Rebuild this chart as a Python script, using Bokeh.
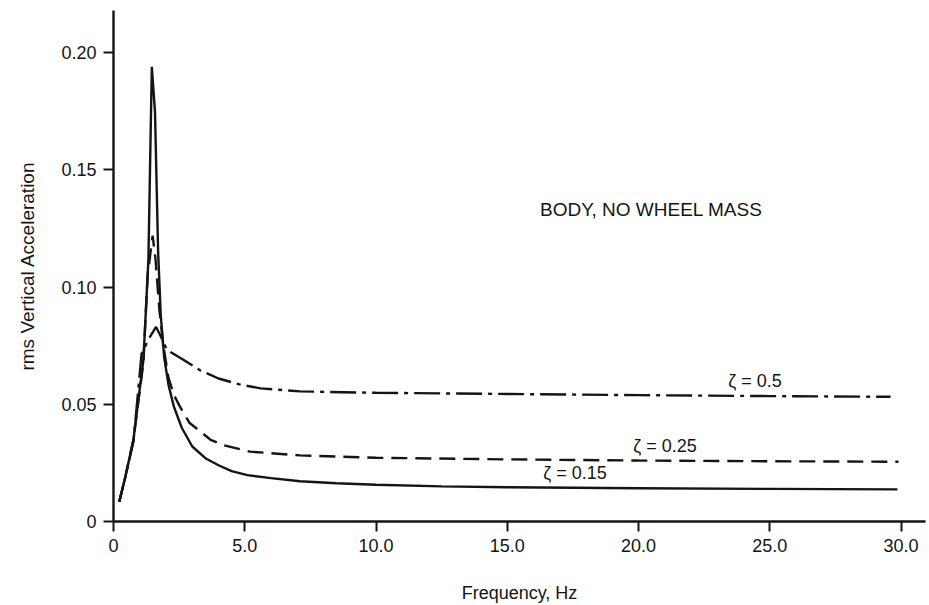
from bokeh.plotting import figure
from bokeh.models import Range1d, Label, FixedTicker
from bokeh.embed import file_html
from bokeh.resources import INLINE

# ---- data ----
freq_015 = [0.22, 0.45, 0.76, 1.14, 1.33, 1.46, 1.58, 1.70, 1.80, 1.93, 2.1, 2.3, 2.6, 3.0, 3.5, 4.0, 4.5, 5.1, 6.0, 7.1, 8.5, 10.0, 12.5, 15.0, 20.0, 25.0, 29.86]
acc_015 = [0.0084, 0.019, 0.035, 0.069, 0.112, 0.194, 0.175, 0.115, 0.088, 0.070, 0.058, 0.049, 0.040, 0.032, 0.027, 0.024, 0.0215, 0.0198, 0.0185, 0.0172, 0.0163, 0.0157, 0.015, 0.0146, 0.0142, 0.0139, 0.0137]

freq_025 = [0.22, 0.45, 0.76, 1.14, 1.30, 1.49, 1.60, 1.75, 1.90, 2.09, 2.3, 2.53, 2.9, 3.3, 3.7, 4.2, 5.2, 7.1, 10.0, 15.0, 20.0, 25.0, 29.9]
acc_025 = [0.0084, 0.019, 0.035, 0.068, 0.105, 0.122, 0.112, 0.090, 0.075, 0.0615, 0.054, 0.049, 0.042, 0.0385, 0.0348, 0.0325, 0.0298, 0.0282, 0.0272, 0.0265, 0.026, 0.0257, 0.0255]

freq_05 = [0.22, 0.45, 0.76, 1.07, 1.35, 1.62, 1.80, 2.03, 2.66, 3.3, 4.0, 4.8, 5.6, 7.1, 10.0, 15.0, 20.0, 25.0, 29.6]
acc_05 = [0.0084, 0.019, 0.034, 0.0716, 0.078, 0.083, 0.079, 0.0733, 0.069, 0.0645, 0.061, 0.0585, 0.0568, 0.0555, 0.0549, 0.0544, 0.0539, 0.0535, 0.0532]

x_ticks = [0, 5, 10, 15, 20, 25, 30]
x_tick_labels = ["0", "5.0", "10.0", "15.0", "20.0", "25.0", "30.0"]
y_ticks = [0, 0.05, 0.10, 0.15, 0.20]
y_tick_labels = ["0", "0.05", "0.10", "0.15", "0.20"]

title_text = "BODY, NO WHEEL MASS"
labels = [("ζ = 0.5", 23.42, 0.0600), ("ζ = 0.25", 19.8, 0.0322), ("ζ = 0.15", 16.37, 0.0207)]

FONT = "Liberation Sans"
INK = "#141414"

p = figure(width=929, height=605, output_backend="svg", toolbar_location=None,
           x_range=Range1d(0, 30.93), y_range=Range1d(0, 0.218),
           min_border_left=113, min_border_right=4, min_border_top=10, min_border_bottom=84)
p.outline_line_color = None
p.xgrid.grid_line_color = None
p.ygrid.grid_line_color = None
p.background_fill_color = "white"
p.border_fill_color = "white"

p.line(freq_015, acc_015, line_color=INK, line_width=2.4)
p.line(freq_025, acc_025, line_color=INK, line_width=2.4, line_dash="16 8")
p.line(freq_05, acc_05, line_color=INK, line_width=2.4, line_dash="26 6 4 6")

for ax, ticks, tl in ((p.xaxis[0], x_ticks, x_tick_labels), (p.yaxis[0], y_ticks, y_tick_labels)):
    ax.ticker = FixedTicker(ticks=ticks)
    ax.major_label_overrides = {t: l for t, l in zip(ticks, tl)}
    ax.axis_line_color = INK
    ax.axis_line_width = 2.4
    ax.major_tick_line_color = INK
    ax.major_tick_line_width = 2
    ax.major_tick_in = 0
    ax.major_tick_out = 10
    ax.minor_tick_line_color = None
    ax.major_label_text_font = FONT
    ax.major_label_text_font_size = "18px"
    ax.major_label_text_color = INK
    ax.axis_label_text_font = FONT
    ax.axis_label_text_font_style = "normal"
    ax.axis_label_text_font_size = "18px"
    ax.axis_label_text_color = INK

p.xaxis.axis_label = "Frequency, Hz"
p.yaxis.axis_label = "rms Vertical Acceleration"
p.yaxis.axis_label_text_font_size = "19px"
p.xaxis.major_label_standoff = 7
p.yaxis.major_label_standoff = 7
p.xaxis.axis_label_standoff = 28
p.yaxis.axis_label_standoff = 20

p.add_layout(Label(x=16.25, y=0.1329, text=title_text, text_font=FONT, text_font_size="19px",
                   text_color=INK, text_baseline="middle", text_align="left"))
for t, lx, ly in labels:
    p.add_layout(Label(x=lx, y=ly, text=t, text_font=FONT, text_font_size="18px",
                       text_color=INK, text_baseline="middle", text_align="left"))

open("out.html", "w").write(file_html(p, INLINE))
